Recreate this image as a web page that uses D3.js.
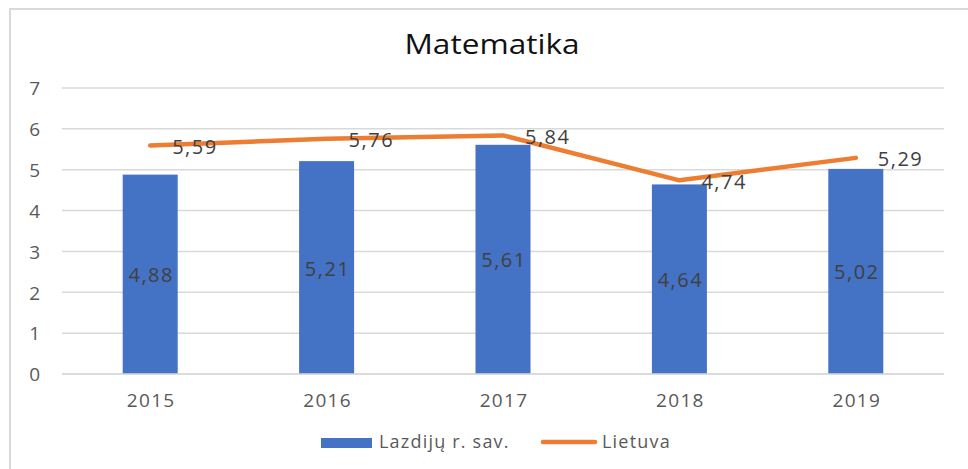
<!DOCTYPE html>
<html><head><meta charset="utf-8">
<script src="https://cdn.jsdelivr.net/npm/d3@7"></script>
<style>body{margin:0;background:#fff;} svg{display:block;} text{font-family:"Open Sans",sans-serif;}</style>
</head><body>
<svg id="c" width="968" height="469"></svg>
<script>
const categories = ["2015","2016","2017","2018","2019"];
const barValues = [4.88,5.21,5.61,4.64,5.02];
const lineValues = [5.59,5.76,5.84,4.74,5.29];
const yTicks = [0,1,2,3,4,5,6,7];
const seriesNames = ["Lazdijų r. sav.","Lietuva"];
const fmt = v => v.toFixed(2).replace(".", ",");

const svg = d3.select("#c");
svg.append("rect").attr("x",10).attr("y",9).attr("width",970).attr("height",480)
  .attr("fill","none").attr("stroke","#d9d9d9").attr("stroke-width",2);

const x = d3.scaleBand().domain(categories).range([62,944]).paddingInner(0).paddingOuter(0);
const y = d3.scaleLinear().domain([0,7]).range([374,88]);

svg.append("text").attr("transform","translate(492,54) scale(1.17,1)").attr("text-anchor","middle")
  .attr("font-size",27).attr("fill","#111").text("Matematika");

// gridlines
svg.append("g").selectAll("line").data(yTicks).join("line")
  .attr("x1",62).attr("x2",944).attr("y1",d=>y(d)).attr("y2",d=>y(d))
  .attr("stroke","#d9d9d9").attr("stroke-width",1.5);

// y labels
const yAxis = d3.axisLeft(y).tickValues(yTicks).tickFormat(d3.format("d")).tickSize(0).tickPadding(0);
const ya = svg.append("g").attr("transform","translate(40,0)").call(yAxis);
ya.select(".domain").remove();
ya.selectAll("text").attr("font-size",19).attr("fill","#595959").attr("font-family","Open Sans, sans-serif")
  .attr("dy","0.36em");

// x labels
const xAxis = d3.axisBottom(x).tickSize(0).tickPadding(0);
const xa = svg.append("g").attr("transform","translate(0,407)").call(xAxis);
xa.select(".domain").remove();
xa.selectAll("text").attr("font-size",19).attr("letter-spacing",1.3).attr("fill","#595959")
  .attr("font-family","Open Sans, sans-serif").attr("dy",0).attr("dx",1);

const bw = 55;
const bars = categories.map((c,i)=>({c, v:barValues[i]}));
svg.append("g").selectAll("rect").data(bars).join("rect")
  .attr("x",d=>x(d.c)+x.bandwidth()/2-bw/2).attr("width",bw)
  .attr("y",d=>y(d.v)).attr("height",d=>y(0)-y(d.v)).attr("fill","#4472C4");

// axis baseline
svg.append("line").attr("x1",62).attr("x2",944).attr("y1",y(0)).attr("y2",y(0))
  .attr("stroke","#d9d9d9").attr("stroke-width",1.5);

svg.append("g").selectAll("text").data(bars).join("text")
  .attr("x",d=>x(d.c)+x.bandwidth()/2+1).attr("y",d=>(y(d.v)+y(0))/2+8)
  .attr("text-anchor","middle").attr("font-size",20).attr("letter-spacing",1.5).attr("fill","#404040")
  .text(d=>fmt(d.v));

const pts = categories.map((c,i)=>({c, v:lineValues[i]}));
const line = d3.line().x(d=>x(d.c)+x.bandwidth()/2).y(d=>y(d.v));
svg.append("path").datum(pts).attr("d",line).attr("fill","none")
  .attr("stroke","#ED7D31").attr("stroke-width",4.5).attr("stroke-linecap","round").attr("stroke-linejoin","round");

svg.append("g").selectAll("text").data(pts).join("text")
  .attr("x",d=>x(d.c)+x.bandwidth()/2+22).attr("y",d=>y(d.v)+8.5)
  .attr("font-size",20).attr("letter-spacing",1.5).attr("fill","#404040").text(d=>fmt(d.v));

// legend
svg.append("rect").attr("x",321).attr("y",438).attr("width",51).attr("height",10).attr("fill","#4472C4");
svg.append("text").attr("x",379).attr("y",448).attr("font-size",18).attr("letter-spacing",1.2).attr("fill","#595959").text(seriesNames[0]);
svg.append("line").attr("x1",543).attr("x2",595).attr("y1",442).attr("y2",442)
  .attr("stroke","#ED7D31").attr("stroke-width",4.5).attr("stroke-linecap","round");
svg.append("text").attr("x",602).attr("y",448).attr("font-size",18).attr("letter-spacing",1.2).attr("fill","#595959").text(seriesNames[1]);
</script>
</body></html>
